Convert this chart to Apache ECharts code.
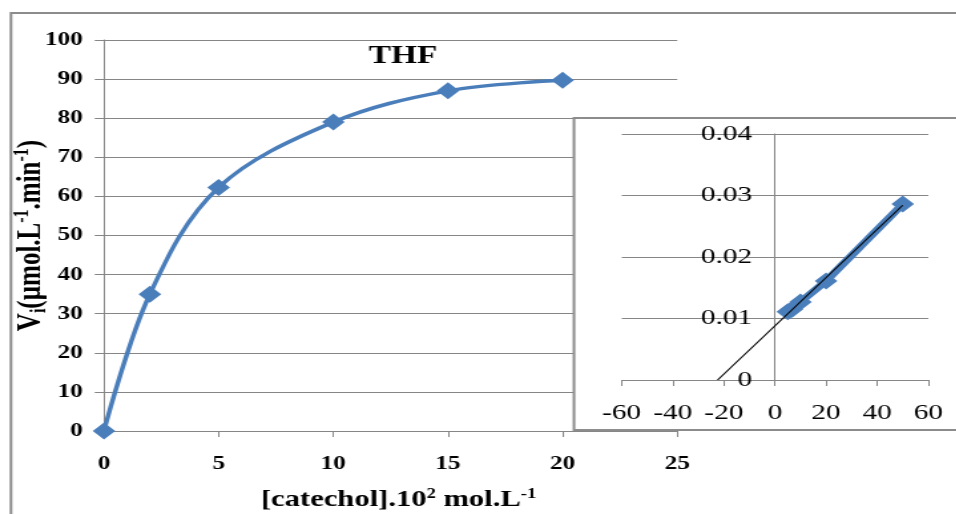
<!DOCTYPE html>
<html>
<head>
<meta charset="utf-8">
<script src="https://cdn.jsdelivr.net/npm/echarts@6/dist/echarts.min.js"></script>
<style>
  html, body { margin: 0; padding: 0; background: #fff; overflow: hidden; }
  #wrap { width: 956px; height: 514px; overflow: hidden; }
  /* The chart is laid out on a narrower canvas and widened horizontally. */
  #chart { height: 514px; transform-origin: 0 0; }
</style>
</head>
<body>
<div id="wrap"><div id="chart"></div></div>
<script>
// Initial rate vs catechol concentration (THF)
const catechol = [0, 2, 5, 10, 15, 20];
const rate = [0, 35, 62.3, 79, 87, 89.7];

// Double-reciprocal (Lineweaver-Burk) inset
const invConc = [5, 6.67, 10, 20, 50];
const invRate = [0.0111, 0.0115, 0.0127, 0.0161, 0.0286];

const mainXTicks = { min: 0, max: 25, step: 5 };
const mainYTicks = { min: 0, max: 100, step: 10 };
const insetXTicks = { min: -60, max: 60, step: 20 };
const insetYTicks = { min: 0, max: 0.04, step: 0.01 };

const SX = 1.33;
const W = 956 / SX;
const px = v => v / SX;

const el = document.getElementById('chart');
el.style.width = W + 'px';
el.style.transform = 'scale(' + SX + ',1)';

// least-squares fit of the inset points
const n = invConc.length;
const mx = invConc.reduce((a, b) => a + b, 0) / n;
const my = invRate.reduce((a, b) => a + b, 0) / n;
let sxy = 0, sxx = 0;
for (let i = 0; i < n; i++) {
  sxy += (invConc[i] - mx) * (invRate[i] - my);
  sxx += (invConc[i] - mx) * (invConc[i] - mx);
}
const slope = sxy / sxx;
const icpt = my - slope * mx;
const xStart = -icpt / slope;
const xEnd = Math.max.apply(null, invConc);
const trend = [[xStart, 0], [xEnd, icpt + slope * xEnd]];

const SERIF = 'Liberation Serif, Times New Roman, serif';
const GRAY = '#868686';
const BLUE = '#4a7ebb';

// inset frame (page pixels) and the inset's y axis sitting on x = 0
const insetLeft = 621.7, insetRight = 928;
const insetZeroX = insetLeft + (0 - insetXTicks.min) / (insetXTicks.max - insetXTicks.min) * (insetRight - insetLeft);

const chart = echarts.init(el, null, { renderer: 'canvas' });
chart.setOption({
  animation: false,
  backgroundColor: '#fff',
  grid: [
    { left: px(104), right: W - px(677), top: 40, bottom: 83, containLabel: false, outerBoundsMode: 'none' },
    { left: px(insetLeft), right: W - px(insetRight), top: 134, bottom: 134, containLabel: false, outerBoundsMode: 'none' }
  ],
  graphic: [
    { type: 'rect', z: -10, shape: { x: px(11), y: 13, width: 900, height: 600 },
      style: { fill: 'none', stroke: '#8c8c8c', lineWidth: 2 } },
    { type: 'rect', z: 1, shape: { x: px(574), y: 118, width: 400, height: 312 },
      style: { fill: '#fff', stroke: '#8c8c8c', lineWidth: 2 } },
    { type: 'text', z: 3, x: px(403), y: 57,
      style: { text: 'THF', fontFamily: SERIF, fontWeight: 'bold', fontSize: 25,
               fill: '#000', textAlign: 'center', textVerticalAlign: 'middle' } }
  ],
  xAxis: [
    {
      gridIndex: 0, type: 'value',
      min: mainXTicks.min, max: mainXTicks.max, interval: mainXTicks.step,
      name: '{b|[catechol].10}{p|2}{b| mol.L}{p|-1}',
      nameLocation: 'middle', nameGap: 56, nameMoveOverlap: false,
      nameTextStyle: {
        padding: [0, 0, 0, 12],
        rich: {
          b: { fontFamily: SERIF, fontWeight: 'bold', fontSize: 23, color: '#000', lineHeight: 26 },
          p: { fontFamily: SERIF, fontWeight: 'bold', fontSize: 14, color: '#000', lineHeight: 14, verticalAlign: 'top' }
        }
      },
      axisLine: { show: true, onZero: false, lineStyle: { color: GRAY, width: 1 } },
      axisTick: { show: true, length: 6, lineStyle: { color: GRAY } },
      axisLabel: { fontFamily: SERIF, fontWeight: 'bold', fontSize: 19, color: '#000', margin: 24 },
      splitLine: { show: false }
    },
    {
      gridIndex: 1, type: 'value', z: 5,
      min: insetXTicks.min, max: insetXTicks.max, interval: insetXTicks.step,
      axisLine: { show: true, onZero: false, lineStyle: { color: GRAY, width: 1 } },
      axisTick: { show: true, length: 6, lineStyle: { color: GRAY } },
      axisLabel: { fontFamily: SERIF, fontSize: 22, color: '#000', margin: 22 },
      splitLine: { show: false }
    }
  ],
  yAxis: [
    {
      gridIndex: 0, type: 'value',
      min: mainYTicks.min, max: mainYTicks.max, interval: mainYTicks.step,
      name: '{b|V}{s|i}{b|(µmol.L}{p|-1}{b|.min}{p|-1}{b|)}',
      nameLocation: 'middle', nameRotate: 90, nameGap: 40, nameMoveOverlap: false,
      nameTextStyle: {
        rich: {
          b: { fontFamily: SERIF, fontWeight: 'bold', fontSize: 25, color: '#000', lineHeight: 29 },
          s: { fontFamily: SERIF, fontWeight: 'bold', fontSize: 16, color: '#000', lineHeight: 16, verticalAlign: 'bottom' },
          p: { fontFamily: SERIF, fontWeight: 'bold', fontSize: 16, color: '#000', lineHeight: 16, verticalAlign: 'top' }
        }
      },
      axisLine: { show: true, lineStyle: { color: GRAY, width: 1 } },
      axisTick: { show: true, length: 7, lineStyle: { color: GRAY } },
      axisLabel: { fontFamily: SERIF, fontWeight: 'bold', fontSize: 19, color: '#000', margin: 16 },
      splitLine: { show: true, lineStyle: { color: GRAY, width: 1 } }
    },
    {
      gridIndex: 1, type: 'value', z: 5,
      min: insetYTicks.min, max: insetYTicks.max, interval: insetYTicks.step,
      offset: -px(insetZeroX - insetLeft),
      axisLine: { show: true, onZero: false, lineStyle: { color: GRAY, width: 1 } },
      axisTick: { show: false },
      axisLabel: { fontFamily: SERIF, fontSize: 22, color: '#000', margin: 17 },
      splitLine: { show: true, lineStyle: { color: GRAY, width: 1 } }
    }
  ],
  series: [
    {
      type: 'line', xAxisIndex: 0, yAxisIndex: 0, z: 3,
      data: catechol.map((x, i) => [x, rate[i]]),
      smooth: 0.35,
      symbol: 'diamond', symbolSize: 17,
      lineStyle: { color: BLUE, width: 3.5 },
      itemStyle: { color: BLUE }
    },
    {
      type: 'line', xAxisIndex: 1, yAxisIndex: 1, z: 6,
      data: invConc.map((x, i) => [x, invRate[i]]),
      symbol: 'diamond', symbolSize: 17,
      lineStyle: { color: BLUE, width: 6.5 },
      itemStyle: { color: BLUE }
    },
    {
      type: 'line', xAxisIndex: 1, yAxisIndex: 1, z: 7,
      data: trend,
      symbol: 'none',
      lineStyle: { color: '#000', width: 1.2 }
    }
  ]
});
</script>
</body>
</html>
